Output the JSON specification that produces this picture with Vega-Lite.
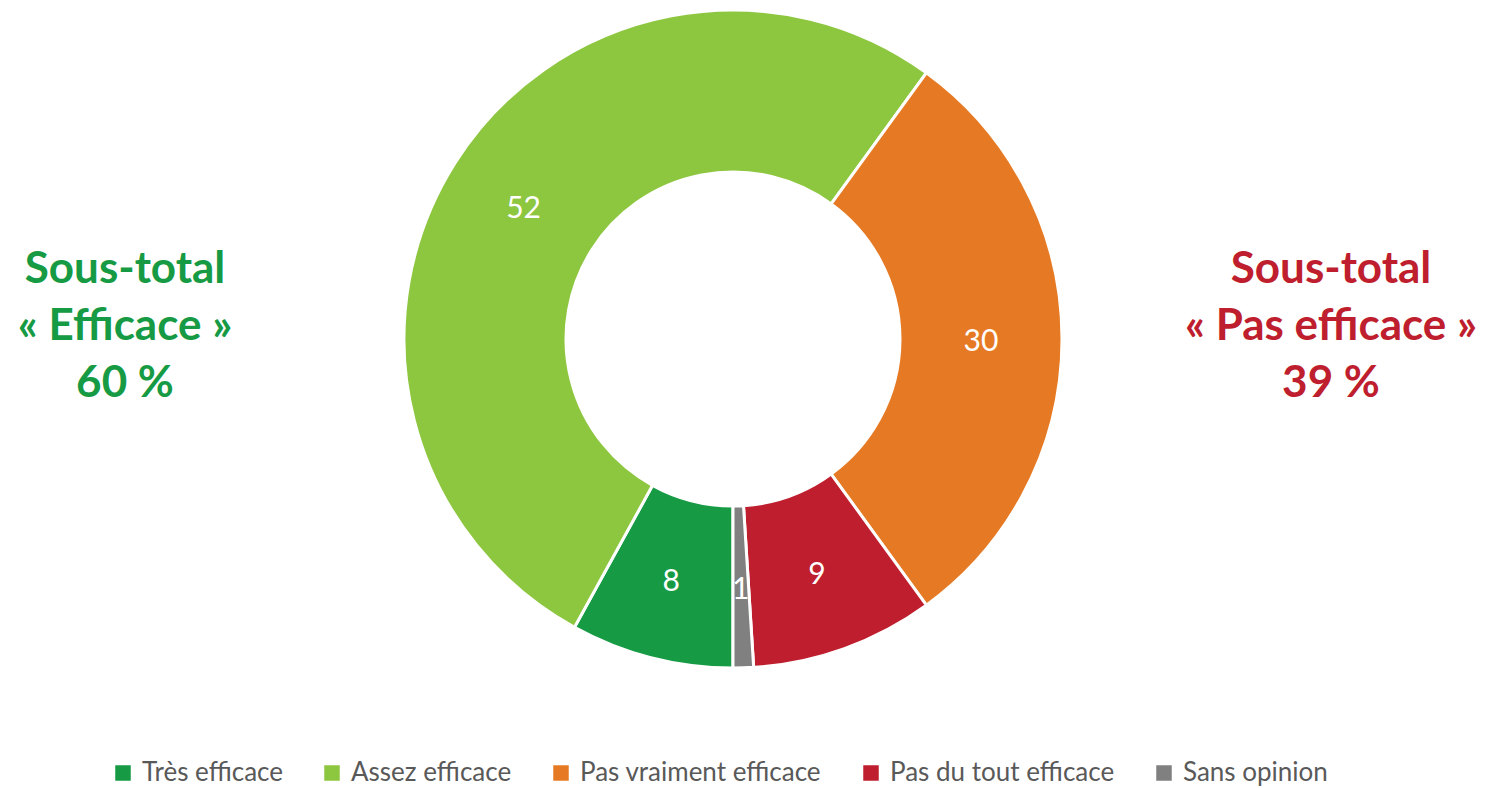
{
  "$schema": "https://vega.github.io/schema/vega-lite/v6.json",
  "width": 1466,
  "height": 678,
  "autosize": {"type": "none"},
  "padding": {"left": 0, "top": 0, "right": 31, "bottom": 110},
  "background": "white",
  "config": {"view": {"stroke": null}, "font": "Lato"},
  "layer": [
    {
      "data": {
        "values": [
          {"reponse": "Très efficace", "pct": 8, "ordre": 1},
          {"reponse": "Assez efficace", "pct": 52, "ordre": 2},
          {"reponse": "Pas vraiment efficace", "pct": 30, "ordre": 3},
          {"reponse": "Pas du tout efficace", "pct": 9, "ordre": 4},
          {"reponse": "Sans opinion", "pct": 1, "ordre": 5}
        ]
      },
      "layer": [
        {
          "mark": {"type": "arc", "outerRadius": 329, "innerRadius": 167, "stroke": "white", "strokeWidth": 3},
          "encoding": {
            "theta": {"field": "pct", "type": "quantitative", "stack": true, "scale": {"range": [3.14159265, 9.42477796]}},
            "order": {"field": "ordre", "type": "quantitative"},
            "color": {
              "field": "reponse",
              "type": "nominal",
              "scale": {
                "domain": ["Très efficace", "Assez efficace", "Pas vraiment efficace", "Pas du tout efficace", "Sans opinion"],
                "range": ["#169A44", "#8DC63F", "#E67A24", "#BE1E2D", "#808080"]
              },
              "legend": {
                "orient": "none",
                "legendX": 110,
                "legendY": 760,
                "direction": "horizontal",
                "title": null,
                "symbolType": "square",
                "symbolSize": 240,
                "symbolStrokeWidth": 0,
                "labelFontSize": 26,
                "labelColor": "#595959",
                "labelLimit": 400,
                "labelOffset": 6,
                "columnPadding": 36
              }
            }
          }
        },
        {
          "mark": {"type": "text", "radius": 248, "color": "white", "fontSize": 30, "dy": 3},
          "encoding": {
            "theta": {"field": "pct", "type": "quantitative", "stack": true},
            "order": {"field": "ordre", "type": "quantitative"},
            "text": {"field": "pct", "type": "quantitative"}
          }
        }
      ]
    },
    {
      "data": {
        "values": [
          {"groupe": "Efficace", "libelle": "Sous-total\n« Efficace »\n60 %"},
          {"groupe": "Pas efficace", "libelle": "Sous-total\n« Pas efficace »\n39 %"}
        ]
      },
      "mark": {"type": "text", "fontWeight": "bold", "fontSize": 44, "lineBreak": "\n", "lineHeight": 57, "dy": -69, "align": "center", "baseline": "middle"},
      "encoding": {
        "x": {"field": "groupe", "type": "nominal", "scale": {"type": "point", "range": [125, 1331], "padding": 0}, "axis": null},
        "text": {"field": "libelle", "type": "nominal"},
        "color": {"condition": {"test": "datum.groupe === 'Efficace'", "value": "#169A44"}, "value": "#BE1E2D"}
      }
    }
  ]
}
